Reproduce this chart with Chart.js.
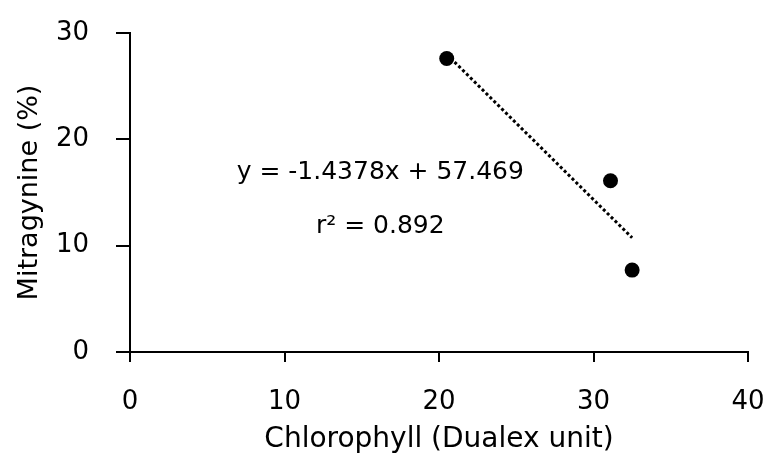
<!DOCTYPE html>
<html>
<head>
<meta charset="utf-8">
<script src="https://cdn.jsdelivr.net/npm/chart.js@4/dist/chart.umd.min.js"></script>
<style>
  html, body { margin: 0; padding: 0; background: #fff; }
  #wrap { width: 768px; height: 454px; }
</style>
</head>
<body>
<div id="wrap"><canvas id="c" width="768" height="454"></canvas></div>
<script>
// Chlorophyll (Dualex) readings and mitragynine content per sample
const chlorophyll = [20.5, 31.1, 32.5];
const mitragynine = [27.6, 16.1, 7.7];

// Linear fit reported on the chart
const fitSlope = -1.4378;
const fitIntercept = 57.469;
const fitR2 = 0.892;

// Axis ticks
const xTicks = [0, 10, 20, 30, 40];
const yTicks = [0, 10, 20, 30];

const FONT = "'DejaVu Sans', sans-serif";

const points = chlorophyll.map((x, i) => ({ x, y: mitragynine[i] }));
const xMin = Math.min(...chlorophyll);
const xMax = Math.max(...chlorophyll);
const trend = [xMin, xMax].map(x => ({ x, y: fitSlope * x + fitIntercept }));

const eqText = 'y = ' + fitSlope + 'x + ' + fitIntercept;
const r2Text = 'r\u00B2 = ' + fitR2;

// Writes the regression equation and r² inside the plot area
const fitLabel = {
  id: 'fitLabel',
  afterDatasetsDraw(chart, args, opts) {
    const { ctx, scales } = chart;
    ctx.save();
    ctx.fillStyle = '#000';
    ctx.font = opts.size + 'px ' + FONT;
    ctx.textAlign = 'center';
    ctx.textBaseline = 'middle';
    const cx = scales.x.getPixelForValue(opts.at);
    ctx.fillText(eqText, cx, scales.y.getPixelForValue(opts.eqAt));
    ctx.fillText(r2Text, cx, scales.y.getPixelForValue(opts.r2At));
    ctx.restore();
  }
};

const axisLine = { display: true, color: '#000', width: 2 };
const tickGrid = { display: true, drawOnChartArea: false, drawTicks: true, tickLength: 14, color: '#000', lineWidth: 2 };

new Chart(document.getElementById('c'), {
  type: 'scatter',
  data: {
    datasets: [
      {
        label: 'Samples',
        data: points,
        pointRadius: 7.5,
        pointHoverRadius: 7.5,
        pointBackgroundColor: '#000',
        pointBorderColor: '#000',
        pointBorderWidth: 0,
        order: 1
      },
      {
        type: 'line',
        label: 'Linear fit',
        data: trend,
        borderColor: '#000',
        borderWidth: 3,
        borderDash: [3, 2.5],
        pointRadius: 0,
        fill: false,
        order: 2
      }
    ]
  },
  plugins: [fitLabel],
  options: {
    responsive: false,
    animation: false,
    events: [],
    layout: { padding: { top: 33, right: 20, left: 0, bottom: 0 } },
    plugins: {
      legend: { display: false },
      tooltip: { enabled: false },
      fitLabel: { at: 16.2, eqAt: 16.9, r2At: 11.8, size: 25 }
    },
    scales: {
      x: {
        type: 'linear',
        min: 0, max: 40,
        afterBuildTicks: s => { s.ticks = xTicks.map(v => ({ value: v })); },
        afterFit: s => { s.height = 102; s.paddingLeft = 0; s.paddingRight = 0; },
        border: axisLine,
        grid: Object.assign({}, tickGrid, { tickLength: 10 }),
        ticks: { color: '#000', font: { family: FONT, size: 26 }, padding: 25, maxRotation: 0 },
        title: { display: true, text: 'Chlorophyll (Dualex unit)', color: '#000', font: { family: FONT, size: 28 }, padding: { top: 0, bottom: -3 } }
      },
      y: {
        type: 'linear',
        min: 0, max: 30,
        afterBuildTicks: s => { s.ticks = yTicks.map(v => ({ value: v })); },
        afterFit: s => { s.width = 130; s.paddingTop = 0; s.paddingBottom = 0; },
        border: axisLine,
        grid: tickGrid,
        ticks: { color: '#000', font: { family: FONT, size: 26 }, padding: 27 },
        title: { display: true, text: 'Mitragynine (%)', color: '#000', font: { family: FONT, size: 27 }, padding: { top: 14, bottom: 0 } }
      }
    }
  }
});
</script>
</body>
</html>
